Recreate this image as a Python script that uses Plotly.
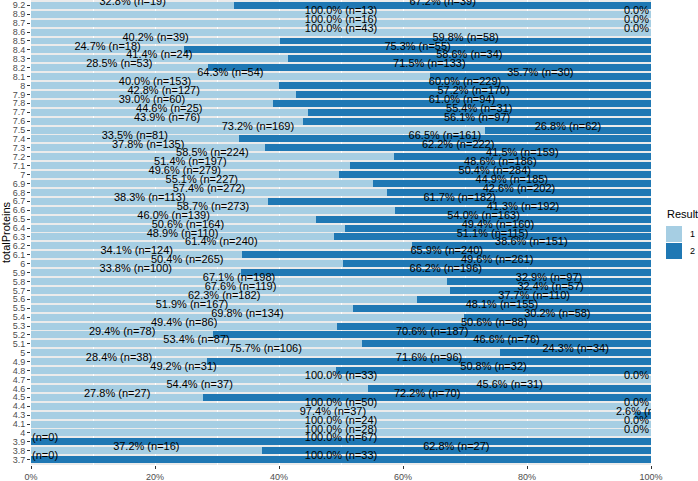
import plotly.graph_objects as go

categories = ["9.2","8.9","8.7","8.6","8.5","8.4","8.3","8.2","8.1","8",
              "7.9","7.8","7.7","7.6","7.5","7.4","7.3","7.2","7.1","7",
              "6.9","6.8","6.7","6.6","6.5","6.4","6.3","6.2","6.1","6",
              "5.9","5.8","5.7","5.6","5.5","5.4","5.3","5.2","5.1","5",
              "4.9","4.8","4.7","4.6","4.5","4.4","4.3","4.1","4",
              "3.9","3.8","3.7"]
pct1 = [32.8,100,100,100,40.2,24.7,41.4,28.5,64.3,40.0,
        42.8,39.0,44.6,43.9,73.2,33.5,37.8,58.5,51.4,49.6,
        55.1,57.4,38.3,58.7,46.0,50.6,48.9,61.4,34.1,50.4,
        33.8,67.1,67.6,62.3,51.9,69.8,49.4,29.4,53.4,75.7,
        28.4,49.2,100,54.4,27.8,100,97.4,100,100,
        0,37.2,0]
n1 = [19,13,16,43,39,18,24,53,54,153,
      127,60,25,76,169,81,135,224,197,279,
      227,272,113,273,139,164,110,240,124,265,
      100,198,119,182,167,134,86,78,87,106,
      38,31,33,37,27,50,37,24,28,
      0,16,0]
pct2 = [67.2,0,0,0,59.8,75.3,58.6,71.5,35.7,60.0,
        57.2,61.0,55.4,56.1,26.8,66.5,62.2,41.5,48.6,50.4,
        44.9,42.6,61.7,41.3,54.0,49.4,51.1,38.6,65.9,49.6,
        66.2,32.9,32.4,37.7,48.1,30.2,50.6,70.6,46.6,24.3,
        71.6,50.8,0,45.6,72.2,0,2.6,0,0,
        100,62.8,100]
n2 = [39,0,0,0,58,55,34,133,30,229,
      170,94,31,97,62,161,222,159,186,284,
      185,202,182,192,163,160,115,151,240,261,
      196,97,57,110,155,58,88,187,76,34,
      96,32,0,31,70,0,1,0,0,
      67,27,33]
legend_title = "Result"
legend_labels = ["1", "2"]
x_ticks = [0, 0.2, 0.4, 0.6, 0.8, 1.0]
x_ticklabels = ["0%", "20%", "40%", "60%", "80%", "100%"]

N = len(categories)
ypos = [N - 1 - i for i in range(N)]  # top category at top

c1 = "#A6CEE3"
c2 = "#1F78B4"
colors = [c1, c2]

W, H = 698, 481
ML, MR, MT, MB = 31, 47, 0, 16
PW, PH = W - ML - MR, H - MT - MB

def fx(px):
    return (px - ML) / PW

def fy(py):
    return 1 - (py - MT) / PH

fig = go.Figure()
fig.add_trace(go.Bar(y=ypos, x=[p / 100 for p in pct1], orientation="h",
                     marker=dict(color=c1, line=dict(width=0)), name=legend_labels[0],
                     width=0.78, showlegend=False))
fig.add_trace(go.Bar(y=ypos, x=[p / 100 for p in pct2], orientation="h",
                     marker=dict(color=c2, line=dict(width=0)), name=legend_labels[1],
                     width=0.78, showlegend=False))

lab_x, lab_y, lab_t = [], [], []
for i in range(N):
    lab_x.append(pct1[i] / 200)
    lab_y.append(ypos[i] + 0.35)
    lab_t.append(f"{pct1[i]:.1f}% (n={n1[i]})")
    lab_x.append(pct1[i] / 100 + pct2[i] / 200)
    lab_y.append(ypos[i] + 0.35)
    lab_t.append(f"{pct2[i]:.1f}% (n={n2[i]})")

fig.add_trace(go.Scatter(x=lab_x, y=lab_y, text=lab_t, mode="text",
                         textposition="middle center", cliponaxis=True,
                         textfont=dict(family="Liberation Sans, Arial", size=11, color="black"),
                         showlegend=False, hoverinfo="skip"))

# manual legend (ggplot style)
shapes = []
annotations = [dict(xref="paper", yref="paper", x=fx(665), y=fy(214), text=legend_title,
                    showarrow=False, xanchor="left", yanchor="middle",
                    font=dict(size=11, color="black"))]
for k, (lab, col) in enumerate(zip(legend_labels, colors)):
    top = 226 + k * 17
    shapes.append(dict(type="rect", xref="paper", yref="paper",
                       x0=fx(666), x1=fx(682), y0=fy(top), y1=fy(top + 16),
                       fillcolor=col, line=dict(width=0)))
    annotations.append(dict(xref="paper", yref="paper", x=fx(688), y=fy(top + 8), text=lab,
                            showarrow=False, xanchor="left", yanchor="middle",
                            font=dict(size=9, color="black")))

fig.update_layout(
    barmode="stack",
    width=W, height=H,
    margin=dict(l=ML, r=MR, t=MT, b=MB),
    paper_bgcolor="white",
    plot_bgcolor="#EBEBEB",
    font=dict(family="Liberation Sans, Arial", size=9, color="#4D4D4D"),
    showlegend=False,
    shapes=shapes,
    annotations=annotations,
)
fig.update_xaxes(range=[0, 1], tickvals=x_ticks, ticktext=x_ticklabels,
                 ticks="outside", ticklen=3, tickcolor="#333333",
                 showgrid=True, gridcolor="white", gridwidth=1,
                 minor=dict(tickvals=[0.1, 0.3, 0.5, 0.7, 0.9], showgrid=True,
                            gridcolor="white", gridwidth=0.5),
                 zeroline=False, showline=False, automargin=False,
                 tickfont=dict(size=9, color="#4D4D4D"))
fig.update_yaxes(range=[-0.6, N - 1 + 0.6], tickvals=ypos, ticktext=categories,
                 ticks="outside", ticklen=3, tickcolor="#333333",
                 showgrid=True, gridcolor="white", zeroline=False, showline=False,
                 automargin=False, tickfont=dict(size=9, color="#4D4D4D"),
                 title=dict(text="totalProteins", font=dict(size=11, color="black"), standoff=4))

fig.write_html("out.html", config={"displayModeBar": False},
               post_script="document.body.style.margin='0';document.body.style.overflow='hidden';")
